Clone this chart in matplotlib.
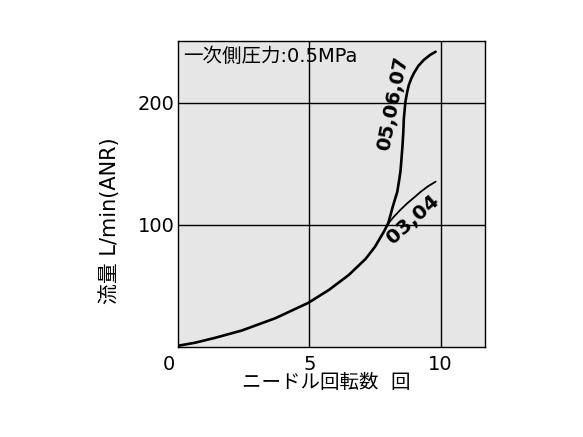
import matplotlib
matplotlib.use("Agg")
import matplotlib.pyplot as plt
import matplotlib.transforms as mtransforms

plt.rcParams['font.family'] = ['DejaVu Sans', 'Noto Sans CJK JP']

# common curve (up to ~8 turns)
common_x = [0.0, 0.65, 1.41, 2.43, 3.7, 4.95, 5.74, 6.5, 7.14, 7.5, 7.84, 8.0]
common_y = [1.0, 3.5, 7.5, 13.5, 23.5, 36.0, 46.6, 58.9, 72.0, 82.0, 94.4, 101.0]
# 03,04 branch
s1_x = [8.0, 8.22, 8.48, 8.73, 9.0, 9.24, 9.52, 9.81]
s1_y = [101.0, 106.6, 112.5, 117.6, 122.5, 127.0, 131.5, 135.3]
# 05,06,07 branch
s2_x = [8.0, 8.08, 8.16, 8.25, 8.35, 8.41, 8.47, 8.51, 8.55, 8.58, 8.6, 8.63,
        8.66, 8.72, 8.79, 8.88, 8.98, 9.15, 9.36, 9.6, 9.81]
s2_y = [101.0, 107.0, 113.5, 120.0, 127.0, 135.0, 143.5, 154.0, 165.3, 176.0,
        187.0, 194.0, 200.7, 208.0, 214.4, 219.5, 224.0, 230.0, 234.9, 239.0, 241.6]

xticks = [0, 5, 10]
yticks = [100, 200]
title_note = "一次側圧力:0.5MPa"
xlabel = "ニードル回転数  回"
ylabel = "流量 L/min(ANR)"
label1 = "03,04"
label2 = "05,06,07"

W, H = 583, 437
fig = plt.figure(figsize=(W / 100, H / 100), dpi=100)
ax = fig.add_axes([178 / W, 1 - 347 / H, (485 - 178) / W, (347 - 41) / H])
ax.set_facecolor('#e6e6e6')
ax.set_xlim(0, 11.69)
ax.set_ylim(0, 250.4)

for v in [5, 10]:
    ax.axvline(v, color='black', lw=1.0, zorder=1)
for v in yticks:
    ax.axhline(v, color='black', lw=1.0, zorder=1)

ax.plot(common_x, common_y, color='black', lw=1.9, zorder=3,
        solid_joinstyle='round', solid_capstyle='round')
ax.plot(s1_x, s1_y, color='black', lw=1.3, zorder=3,
        solid_joinstyle='round', solid_capstyle='round')
ax.plot(s2_x, s2_y, color='black', lw=1.9, zorder=3,
        solid_joinstyle='round', solid_capstyle='round')

ax.set_xticks(xticks)
ax.set_yticks(yticks)
ax.tick_params(axis='x', length=0, pad=6, labelsize=14)
ax.tick_params(axis='y', length=0, pad=2.5, labelsize=14)
# shift the "0" label slightly left as in the reference
offset = mtransforms.ScaledTranslation(-9 / 100, 0, fig.dpi_scale_trans)
lbl0 = ax.get_xticklabels()[0]
lbl0.set_transform(lbl0.get_transform() + offset)

for s in ax.spines.values():
    s.set_color('black')
    s.set_linewidth(1.0)

fig.text(326 / W, 1 - 383 / H, xlabel, fontsize=14, ha='center', va='center')
fig.text(110 / W, 1 - 221 / H, ylabel, fontsize=15, ha='center', va='center',
         rotation=90)

ax.text(0.2, 237.5, title_note, fontsize=14, ha='left', va='center')
ax.text(8.18, 199, label2, fontsize=14, fontweight='bold', rotation=79,
        ha='center', va='center')
ax.text(8.95, 104, label1, fontsize=14.5, fontweight='bold', rotation=42,
        ha='center', va='center')

fig.savefig("out.png", dpi=100)
